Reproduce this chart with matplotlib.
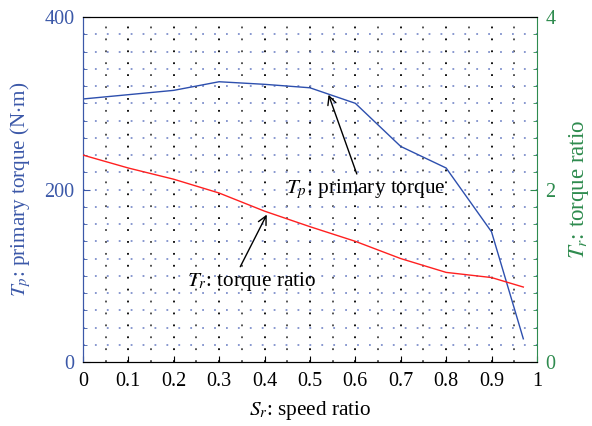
import matplotlib
matplotlib.use("Agg")
import matplotlib.pyplot as plt
import numpy as np

plt.rcParams['font.family'] = ['Liberation Serif', 'DejaVu Serif']
plt.rcParams['mathtext.fontset'] = 'stix'

speed_ratio = [0, 0.1, 0.2, 0.3, 0.4, 0.5, 0.6, 0.7, 0.8, 0.9, 0.97]
primary_torque = [305, 310, 315, 325, 322, 318, 300, 250, 225, 151, 27]
torque_ratio = [2.40, 2.25, 2.12, 1.96, 1.75, 1.57, 1.40, 1.20, 1.04, 0.98, 0.87]

xticks = [0, 0.1, 0.2, 0.3, 0.4, 0.5, 0.6, 0.7, 0.8, 0.9, 1]
xticklabels = ['0', '0.1', '0.2', '0.3', '0.4', '0.5', '0.6', '0.7', '0.8', '0.9', '1']
left_ticks = [0, 200, 400]
right_ticks = [0, 2, 4]

blue = '#3b58a8'
line_blue = '#2d4fae'
green = '#2e8b4e'
red = '#ff2020'

fig = plt.figure(figsize=(5.92, 4.26), dpi=100)
ax = fig.add_axes([0.140, 0.150, 0.767, 0.810])
ax2 = ax.twinx()

ax.set_xlim(0, 1)
ax.set_ylim(0, 400)
ax2.set_ylim(0, 4)

# grid
for i, xv in enumerate(np.arange(0.05, 1.0, 0.05)):
    col = '#000000' if i % 2 == 1 else '#444444'
    ax.axvline(xv, color=col, lw=1.3, ls=(0, (1.0, 5.6)), zorder=0)
for yv in np.arange(20, 400, 20):
    ax.axhline(yv, color='#7f90cc', lw=1.3, ls=(0, (1.0, 5.6)), zorder=0)

ax.plot(speed_ratio, primary_torque, color=line_blue, lw=1.0, zorder=3)
ax2.plot(speed_ratio, torque_ratio, color=red, lw=1.0, zorder=3)

ax.set_xticks(xticks)
ax.set_xticklabels(xticklabels)
ax.set_yticks(left_ticks)
ax.set_yticks(np.arange(0, 401, 20), minor=True)
ax2.set_yticks(right_ticks)
ax2.set_yticks(np.arange(0, 4.01, 0.2), minor=True)

ax.tick_params(axis='x', direction='in', labelsize=14.5, length=4, pad=7)
ax.tick_params(axis='y', which='both', direction='in', colors=blue, labelsize=14.5, pad=6)
ax.tick_params(axis='y', which='major', length=5)
ax.tick_params(axis='y', which='minor', length=3)
ax2.tick_params(axis='y', which='both', direction='in', colors=green, labelsize=14.5, pad=6)
ax2.tick_params(axis='y', which='major', length=5)
ax2.tick_params(axis='y', which='minor', length=3)

ax.spines['left'].set_color(blue)
ax2.spines['left'].set_color(blue)
ax2.spines['right'].set_color(green)
ax.spines['right'].set_visible(False)

ax.set_xlabel(r'$S_r$: speed ratio', fontsize=15.3, labelpad=6)
ax.set_ylabel(r'$T_p$: primary torque (N$\cdot$m)', fontsize=15.2, color=blue, labelpad=8)
ax2.set_ylabel(r'$T_r$: torque ratio', fontsize=16.5, color=green, labelpad=8)

ax.annotate(r'$T_p$: primary torque', xy=(0.541, 310), xytext=(0.623, 201),
            fontsize=15.3, ha='center', va='center',
            arrowprops=dict(arrowstyle='->', color='black', lw=1.0,
                            shrinkA=0, shrinkB=0, relpos=(0.45, 1.0)), zorder=5)
ax.annotate(r'$T_r$: torque ratio', xy=(0.405, 171), xytext=(0.372, 94),
            fontsize=15.3, ha='center', va='center',
            arrowprops=dict(arrowstyle='->', color='black', lw=1.0,
                            shrinkA=0, shrinkB=0, relpos=(0.40, 1.0)), zorder=5)

fig.savefig('out.png', dpi=100)
